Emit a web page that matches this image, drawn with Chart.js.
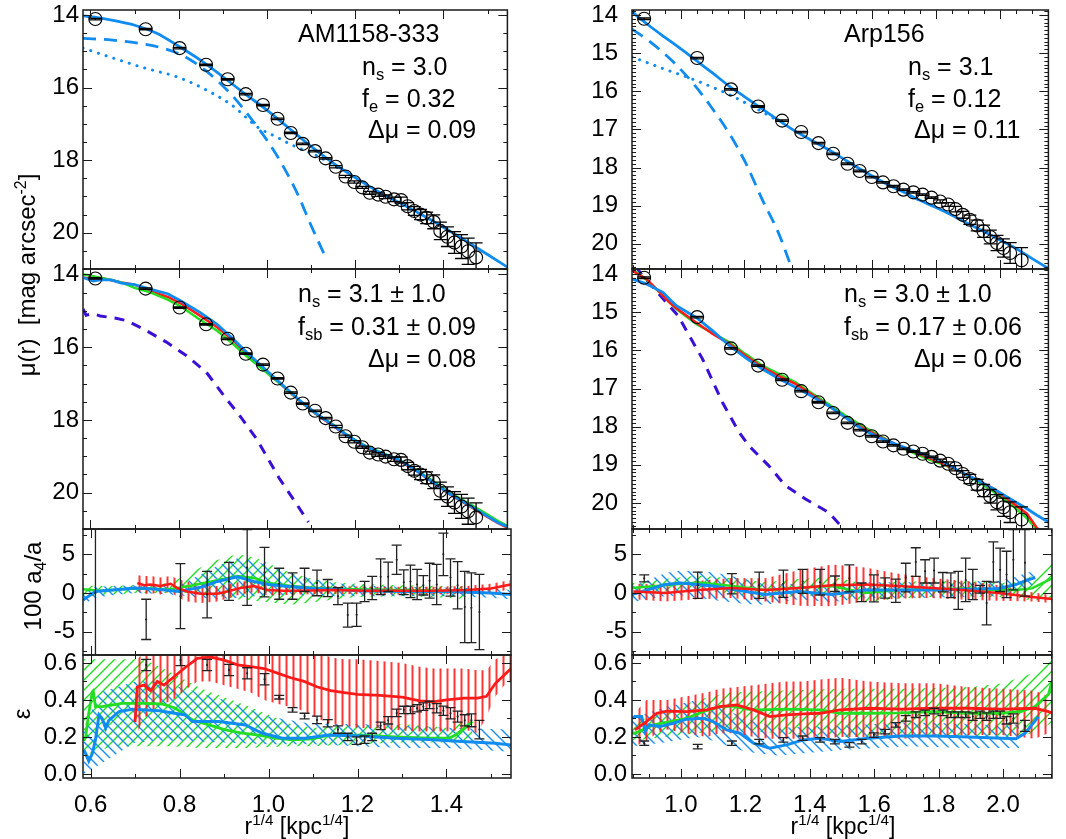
<!DOCTYPE html>
<html>
<head>
<meta charset="utf-8">
<script src="https://cdn.jsdelivr.net/npm/chart.js@4.4.0/dist/chart.umd.min.js"></script>
<style>
  body { margin: 0; background: #fff; width: 1066px; height: 839px; position: relative; overflow: hidden;
         font-family: "Liberation Sans", Arial, Helvetica, sans-serif; color: #000; }
  canvas { position: absolute; }
  .t { position: absolute; white-space: nowrap; }
  .t sub { font-size: 0.66em; vertical-align: -0.3em; line-height: 0; }
  .t sup { font-size: 0.66em; vertical-align: 0.55em; line-height: 0; }
  .rot { transform: translate(-50%, -50%) rotate(-90deg); }
  .ctr { transform: translate(-50%, -50%); }
</style>
</head>
<body>
<script>
// ---------- tick labels ----------
const xTicksL = [0.6, 0.8, 1.0, 1.2, 1.4];
const xTicksR = [1.0, 1.2, 1.4, 1.6, 1.8, 2.0];
const muTicksL = [14, 16, 18, 20];
const muTicksR = [14, 15, 16, 17, 18, 19, 20];
const a4Ticks = [-5, 0, 5];
const epsTicks = [0.0, 0.2, 0.4, 0.6];

// ---------- AM1158-333 (left column) ----------
const rL = [0.611,0.725,0.802,0.862,0.911,0.952,0.991,1.024,1.054,1.081,1.109,1.133,1.156,1.178,1.198,1.216,1.233,1.252,1.269,1.288,1.304,1.319,1.334,1.348,1.362,1.378,1.393,1.409,1.425,1.441,1.456,1.474];
const muL = [14.11,14.39,14.91,15.37,15.77,16.18,16.48,16.86,17.25,17.55,17.75,17.95,18.18,18.45,18.60,18.75,18.90,18.95,19.01,19.08,19.10,19.27,19.40,19.50,19.59,19.70,19.95,20.11,20.27,20.38,20.51,20.68];
const muErrL = [0.02,0.02,0.02,0.02,0.02,0.02,0.02,0.02,0.02,0.02,0.02,0.02,0.03,0.03,0.03,0.03,0.04,0.05,0.05,0.06,0.08,0.10,0.12,0.14,0.16,0.19,0.24,0.27,0.30,0.33,0.36,0.40];

const fitRL = [0.583,0.62,0.66,0.70,0.75,0.80,0.85,0.90,0.95,1.00,1.05,1.10,1.15,1.20,1.25,1.30,1.35,1.40,1.45,1.50,1.545];
const fitMuL = [14.02,14.08,14.17,14.28,14.50,14.86,15.25,15.70,16.17,16.62,17.12,17.62,18.08,18.48,18.85,19.17,19.50,19.85,20.22,20.60,20.95];
const bulgeRL = [0.583,0.65,0.72,0.76,0.81,0.86,0.92,0.97,1.00,1.035,1.07,1.10,1.13];
const bulgeMuL = [14.64,14.69,14.80,14.90,15.12,15.52,16.20,16.95,17.45,18.13,18.95,19.80,20.60];
const discRL = [0.583,0.65,0.72,0.80,0.86,0.92,0.98,1.02,1.06,1.11,1.16];
const discMuL = [14.91,15.18,15.45,15.72,16.05,16.48,17.10,17.35,17.60,17.86,18.20];

const simRL = [0.585,0.606,0.625,0.647,0.67,0.70,0.737,0.775,0.805,0.849,0.887,0.924,0.954,0.999,1.036,1.074,1.111,1.149,1.186,1.224,1.261,1.299,1.336,1.374,1.411,1.449,1.486,1.524,1.546];
const simBlueL = [14.09,14.18,14.14,14.15,14.24,14.28,14.41,14.53,14.73,15.05,15.37,15.78,16.14,16.64,17.05,17.46,17.82,18.14,18.46,18.74,18.92,19.10,19.37,19.69,20.01,20.28,20.55,20.83,20.94];
const simGreenL = [14.00,14.05,14.10,14.15,14.22,14.37,14.50,14.69,14.88,15.25,15.55,15.92,16.25,16.70,17.07,17.47,17.83,18.12,18.45,18.72,18.90,19.10,19.35,19.66,19.98,20.24,20.50,20.78,20.92];
const simRedL = [14.09,14.12,14.10,14.16,14.22,14.28,14.46,14.62,14.80,15.14,15.45,15.82,16.20,16.68,17.07,17.48,17.84,18.16,18.47,18.76,18.93,19.12,19.38,19.70,20.02,20.30,20.57,20.84,20.97];
const compRL = [0.583,0.59,0.605,0.622,0.655,0.682,0.72,0.772,0.817,0.862,0.907,0.937,0.975,0.997,1.027,1.057,1.094];
const compMuL = [14.95,15.12,15.08,15.14,15.20,15.27,15.50,15.86,16.23,16.68,17.41,17.86,18.50,18.95,19.59,20.13,20.81];

const a4L = [0,-3.4,-0.4,-0.2,1.5,3.3,2.7,1.2,0.9,1.7,1.3,0.65,-0.4,-2.85,-2.8,0.2,0.65,2.1,2.1,4.3,1.4,1.5,1.1,1.0,1.6,1.1,5.0,2.0,1.0,-1.8,-1.9,-2.45];
const a4ErrL = [20,2.6,4.2,3.0,2.45,4.9,3.2,2.0,1.7,1.5,1.65,1.1,1.1,1.55,1.5,1.3,1.5,2.3,1.9,1.9,1.6,2.1,1.95,1.25,2.25,2.6,2.75,2.4,3.05,4.6,4.5,4.85];
const a4RedXL = [0.705,0.72,0.735,0.757,0.78,0.795,0.817,0.847,0.885,0.907,0.937,0.967,0.997,1.034,1.072,1.147,1.222,1.297,1.372,1.446,1.5,1.544];
const a4RedL = [1.3,1.0,1.1,0.9,1.2,0.65,0.2,-0.1,-0.1,0.2,0.65,0.9,0.4,0.3,0.3,0.4,0.3,0.3,0.3,0.4,0.6,1.1];
const a4RedErrL = [1.0,1.2,1.1,1.1,1.0,1.2,1.3,1.2,1.0,0.9,0.8,0.8,0.7,0.6,0.5,0.5,0.5,0.5,0.5,0.5,0.6,0.6];
const a4GreenXL = [0.583,0.62,0.65,0.70,0.74,0.78,0.83,0.88,0.93,0.97,1.00,1.05,1.10,1.15,1.20,1.30,1.40,1.45];
const a4GreenL = [0.5,0.3,0.4,0.6,0.55,0.5,1.0,1.6,2.2,1.9,1.3,0.9,0.7,0.55,0.5,0.4,0.3,0.3];
const a4GreenHiL = [1.0,0.9,0.9,1.0,1.1,1.3,2.8,4.2,5.0,4.6,3.8,2.6,1.8,1.4,1.2,1.0,0.9,0.8];
const a4GreenLoL = [-0.5,-0.3,-0.2,0,0,0,0,-0.3,-0.8,-1.0,-1.2,-1.5,-1.2,-0.8,-0.5,-0.4,-0.6,-0.8];
const a4BlueXL = [0.583,0.611,0.65,0.70,0.75,0.80,0.85,0.885,0.93,0.967,1.00,1.034,1.10,1.147,1.20,1.30,1.40,1.50,1.545];
const a4BlueL = [-0.9,0.2,0.4,0.65,0.5,0.2,0.8,1.5,2.1,1.5,1.1,0.9,0.6,0.5,0.3,0.2,0.2,0.0,-0.2];
const a4BlueHiL = [0.4,0.8,0.9,1.0,1.0,1.0,2.5,3.5,4.5,4.2,3.5,2.8,1.8,1.3,1.0,0.8,0.7,0.6,0.4];
const a4BlueLoL = [-1.5,-0.6,-0.3,0,-0.1,-0.3,-0.6,-0.8,-0.6,-0.4,-0.3,-0.3,-0.3,-0.4,-0.4,-0.4,-0.4,-0.6,-0.8];

const epsL = [0.589,0.616,0.589,0.562,0.544,0.512,0.415,0.346,0.313,0.292,0.274,0.24,0.20,0.18,0.185,0.20,0.26,0.29,0.33,0.346,0.346,0.355,0.364,0.373,0.355,0.342,0.328,0.31,0.29,0.29,0.24];
const epsErrL = [0.03,0.03,0.03,0.03,0.03,0.03,0.01,0.012,0.015,0.02,0.02,0.02,0.02,0.02,0.02,0.02,0.02,0.02,0.02,0.02,0.02,0.02,0.02,0.02,0.025,0.025,0.03,0.03,0.03,0.035,0.05];
const epsRedXL = [0.70,0.705,0.72,0.735,0.75,0.765,0.785,0.81,0.84,0.87,0.90,0.93,0.96,0.99,1.02,1.05,1.08,1.11,1.14,1.17,1.20,1.25,1.30,1.34,1.37,1.40,1.44,1.47,1.49,1.51,1.53,1.545];
const epsRedL = [0.28,0.47,0.48,0.45,0.50,0.48,0.52,0.57,0.625,0.632,0.615,0.59,0.58,0.57,0.545,0.52,0.50,0.47,0.45,0.44,0.43,0.425,0.415,0.395,0.39,0.40,0.41,0.41,0.42,0.49,0.535,0.57];
const epsRedHiL = [0.55,0.62,0.66,0.67,0.68,0.69,0.70,0.72,0.75,0.76,0.74,0.72,0.72,0.71,0.70,0.68,0.67,0.66,0.63,0.62,0.62,0.61,0.60,0.58,0.57,0.57,0.57,0.56,0.56,0.62,0.64,0.65];
const epsRedLoL = [0.13,0.22,0.30,0.33,0.37,0.38,0.40,0.45,0.50,0.50,0.48,0.46,0.44,0.40,0.38,0.36,0.34,0.30,0.27,0.26,0.25,0.245,0.235,0.23,0.23,0.23,0.24,0.22,0.31,0.42,0.48,0.50];
const epsGreenXL = [0.585,0.589,0.596,0.604,0.606,0.611,0.626,0.641,0.671,0.716,0.761,0.791,0.829,0.866,0.903,0.941,0.978,1.016,1.053,1.10,1.135,1.21,1.285,1.36,1.405,1.42,1.435,1.458];
const epsGreenL = [0.18,0.20,0.33,0.445,0.45,0.364,0.364,0.37,0.382,0.382,0.378,0.355,0.292,0.265,0.238,0.22,0.21,0.193,0.184,0.19,0.21,0.21,0.20,0.193,0.193,0.21,0.238,0.283];
const epsGreenBandXL = [0.585,0.65,0.72,0.78,0.85,0.95,1.05,1.10,1.20,1.30,1.40,1.458];
const epsGreenHiL = [0.62,0.62,0.62,0.55,0.46,0.37,0.27,0.25,0.26,0.27,0.25,0.30];
const epsGreenLoL = [0.10,0.15,0.15,0.15,0.14,0.14,0.15,0.15,0.16,0.17,0.17,0.17];
const epsBlueXL = [0.585,0.589,0.596,0.604,0.611,0.619,0.626,0.634,0.641,0.664,0.694,0.754,0.813,0.829,0.888,0.948,0.986,1.031,1.083,1.135,1.21,1.285,1.36,1.435,1.51,1.545];
const epsBlueL = [0.13,0.11,0.07,0.11,0.184,0.32,0.30,0.247,0.29,0.337,0.35,0.342,0.319,0.283,0.283,0.265,0.22,0.193,0.193,0.21,0.205,0.193,0.186,0.175,0.166,0.157];
const epsBlueBandXL = [0.585,0.62,0.70,0.75,0.80,0.90,1.00,1.10,1.20,1.30,1.40,1.545];
const epsBlueHiL = [0.25,0.44,0.50,0.50,0.47,0.40,0.31,0.27,0.27,0.26,0.25,0.24];
const epsBlueLoL = [0.0,0.05,0.17,0.18,0.18,0.17,0.16,0.16,0.15,0.14,0.14,0.12];

// ---------- Arp156 (right column) ----------
const rR = [0.886,1.052,1.158,1.243,1.318,1.378,1.432,1.478,1.523,1.561,1.599,1.634,1.667,1.698,1.729,1.758,1.786,1.813,1.838,1.861,1.884,1.906,1.929,1.949,1.970,1.991,2.011,2.032,2.068];
const muR = [14.10,15.13,15.95,16.40,16.77,17.07,17.36,17.64,17.90,18.09,18.25,18.39,18.49,18.58,18.65,18.71,18.79,18.89,18.97,19.09,19.24,19.37,19.52,19.67,19.82,19.98,20.11,20.24,20.43];
const muErrR = [0.02,0.02,0.02,0.02,0.02,0.02,0.02,0.02,0.02,0.02,0.02,0.02,0.02,0.02,0.02,0.02,0.02,0.04,0.05,0.07,0.09,0.12,0.14,0.16,0.18,0.20,0.24,0.27,0.33];

const fitRR = [0.848,0.90,0.95,1.00,1.05,1.10,1.15,1.20,1.25,1.30,1.35,1.40,1.45,1.50,1.55,1.60,1.65,1.70,1.75,1.80,1.85,1.90,1.95,2.00,2.05,2.10,2.152];
const fitMuR = [13.92,14.27,14.58,14.88,15.20,15.52,15.85,16.14,16.43,16.72,17.00,17.24,17.47,17.72,17.98,18.22,18.45,18.65,18.86,19.05,19.25,19.47,19.68,19.90,20.12,20.38,20.65];
const bulgeRR = [0.848,0.904,0.976,1.043,1.095,1.152,1.204,1.256,1.307,1.349];
const bulgeMuR = [14.37,14.70,15.22,15.83,16.40,17.10,17.88,18.84,19.72,20.66];
const discRR = [0.848,0.95,1.043,1.15,1.245,1.30];
const discMuR = [15.10,15.42,15.70,16.08,16.49,16.75];

const simRR = [0.848,0.893,0.945,0.966,0.987,1.049,1.101,1.153,1.204,1.256,1.31,1.36,1.41,1.463,1.515,1.567,1.62,1.671,1.72,1.774,1.826,1.878,1.93,1.981,2.033,2.085,2.116,2.152];
const simBlueR = [14.13,14.26,14.48,14.66,14.83,15.14,15.49,15.88,16.2,16.49,16.75,16.97,17.2,17.45,17.75,18.06,18.28,18.45,18.6,18.76,18.93,19.19,19.4,19.63,19.89,20.15,20.32,20.5];
const simRedR = [13.91,14.13,14.57,14.75,14.9,15.27,15.57,15.83,16.14,16.44,16.68,16.88,17.15,17.45,17.75,18.02,18.25,18.45,18.62,18.8,18.98,19.19,19.4,19.63,19.95,20.28,20.65,20.9];
const simGreenR = [13.87,14.15,14.57,14.75,14.92,15.31,15.55,15.79,16.1,16.4,16.62,16.84,17.12,17.41,17.7,17.97,18.22,18.45,18.65,18.85,19.0,19.19,19.43,19.71,20.02,20.4,20.7,20.95];
const compRR = [0.86,0.873,0.992,1.069,1.131,1.183,1.214,1.276,1.328,1.39,1.463,1.509];
const compMuR = [13.8,13.96,15.09,16.23,17.36,18.14,18.5,19.02,19.54,19.89,20.24,20.66];

const a4R = [1.9,1.0,1.2,1.0,1.2,1.5,1.4,1.2,1.9,0.1,0.6,0.65,0.3,2.0,4.0,2.8,2.9,1.4,1.0,0.35,1.7,1.1,0.5,-1.3,4.0,3.0,2.4,4.3,3.9];
const a4ErrR = [0.45,1.7,1.3,1.7,1.75,1.55,1.65,1.0,1.75,1.2,1.75,1.3,1.5,1.85,1.85,1.5,1.6,1.25,1.6,2.45,2.8,1.95,0.5,2.8,2.6,2.8,3.0,3.9,4.3];
const a4RedXR = [0.852,0.951,1.055,1.158,1.262,1.365,1.469,1.572,1.676,1.779,1.883,1.986,2.09,2.157];
const a4RedR = [0.2,0.0,0.4,0.65,0.4,0.65,1.0,1.1,0.9,0.65,0.35,0.0,-0.5,-0.8];
const a4RedErrR = [1.0,1.1,1.2,1.3,1.5,2.3,2.7,2.2,1.6,1.3,1.2,1.0,0.6,0.5];
const a4GreenXR = [0.848,0.95,1.055,1.16,1.262,1.365,1.469,1.572,1.676,1.779,1.883,1.986,2.04,2.09,2.152];
const a4GreenR = [0.65,1.0,1.35,0.9,0.4,0.7,0.9,0.0,0.4,0.5,0.6,0.4,0.4,0.6,1.9];
const a4GreenErrR = [0.6,0.8,0.9,1.0,1.0,1.1,1.2,1.2,1.1,1.0,1.0,0.9,1.0,1.6,2.5];
const a4BlueXR = [0.848,0.951,1.0,1.1,1.2,1.262,1.365,1.469,1.572,1.779,1.986,2.04,2.07,2.1];
const a4BlueR = [-0.2,1.1,1.3,0.9,0.2,-0.2,0.2,-0.2,0.4,0.4,0.6,1.1,1.6,2.0];
const a4BlueErrR = [1.0,1.5,1.6,1.8,1.6,1.3,1.0,1.0,1.0,1.0,1.0,1.0,1.0,0.8];

const epsR = [0.166,0.148,0.166,0.175,0.184,0.193,0.184,0.175,0.157,0.175,0.21,0.229,0.265,0.30,0.32,0.33,0.34,0.33,0.32,0.32,0.32,0.31,0.32,0.31,0.32,0.32,0.29,0.30,0.26];
const epsErrR = [0.012,0.012,0.012,0.012,0.012,0.012,0.012,0.012,0.012,0.012,0.012,0.012,0.012,0.015,0.015,0.015,0.015,0.015,0.015,0.015,0.015,0.02,0.02,0.02,0.02,0.02,0.02,0.025,0.03];
const epsRedXR = [0.857,0.893,0.925,0.956,1.018,1.08,1.121,1.173,1.225,1.276,1.328,1.38,1.432,1.494,1.582,1.685,1.789,1.892,1.996,2.099,2.141,2.152];
const epsRedR = [0.238,0.283,0.328,0.34,0.337,0.346,0.364,0.373,0.346,0.31,0.319,0.325,0.328,0.346,0.355,0.35,0.355,0.355,0.35,0.355,0.337,0.33];
const epsRedHiR = [0.33,0.40,0.40,0.40,0.42,0.44,0.46,0.47,0.48,0.49,0.50,0.50,0.51,0.52,0.50,0.49,0.49,0.47,0.46,0.45,0.42,0.40];
const epsRedLoR = [0.15,0.18,0.22,0.24,0.22,0.20,0.22,0.22,0.20,0.19,0.19,0.19,0.19,0.20,0.20,0.19,0.20,0.21,0.21,0.19,0.22,0.25];
const epsGreenXR = [0.848,0.857,0.914,0.966,1.018,1.069,1.121,1.162,1.204,1.245,1.328,1.432,1.494,1.582,1.685,1.789,1.892,1.996,2.06,2.099,2.141,2.152];
const epsGreenR = [0.22,0.22,0.265,0.283,0.301,0.337,0.364,0.367,0.35,0.346,0.35,0.346,0.328,0.328,0.33,0.337,0.328,0.328,0.34,0.364,0.43,0.50];
const epsGreenBandXR = [0.848,0.95,1.05,1.15,1.3,1.5,1.7,1.9,2.0,2.1,2.152];
const epsGreenHiR = [0.28,0.33,0.40,0.44,0.45,0.46,0.46,0.47,0.49,0.55,0.62];
const epsGreenLoR = [0.18,0.20,0.22,0.24,0.22,0.20,0.20,0.20,0.20,0.22,0.28];
const epsBlueXR = [0.848,0.857,0.878,0.889,0.90,0.935,0.976,1.018,1.069,1.10,1.142,1.183,1.225,1.276,1.328,1.38,1.432,1.494,1.582,1.685,1.789,1.892,1.996,2.04,2.068,2.11];
const epsBlueR = [0.30,0.31,0.31,0.229,0.265,0.256,0.274,0.296,0.301,0.283,0.238,0.22,0.166,0.139,0.157,0.184,0.193,0.175,0.193,0.205,0.205,0.20,0.193,0.19,0.22,0.31];
const epsBlueBandXR = [0.848,0.95,1.05,1.10,1.20,1.30,1.50,1.70,1.90,2.00,2.05];
const epsBlueHiR = [0.30,0.36,0.40,0.38,0.30,0.25,0.26,0.28,0.27,0.26,0.27];
const epsBlueLoR = [0.15,0.17,0.20,0.18,0.12,0.10,0.13,0.15,0.14,0.14,0.14];

// ---------- styling ----------
const BLUE = '#108cf0', GREEN = '#22dd22', RED = '#ff1a1a', PURPLE = '#3a0fd6';
Chart.defaults.font.family = '"Liberation Sans", Arial, Helvetica, sans-serif';
Chart.defaults.font.size = 24;
Chart.defaults.color = '#000';

const scratch = document.createElement('canvas').getContext('2d');
function hatch(color, kind, size, lw) {
  const c = document.createElement('canvas');
  c.width = size; c.height = size;
  const g = c.getContext('2d');
  g.strokeStyle = color; g.lineWidth = lw; g.beginPath();
  if (kind === '|') { g.moveTo(size / 2, 0); g.lineTo(size / 2, size); }
  else if (kind === '/') {
    g.moveTo(-1, size + 1); g.lineTo(size + 1, -1);
    g.moveTo(-1, 1); g.lineTo(1, -1);
    g.moveTo(size - 1, size + 1); g.lineTo(size + 1, size - 1);
  } else {
    g.moveTo(-1, -1); g.lineTo(size + 1, size + 1);
    g.moveTo(size - 1, -1); g.lineTo(size + 1, 1);
    g.moveTo(-1, size - 1); g.lineTo(1, size + 1);
  }
  g.stroke();
  return scratch.createPattern(c, 'repeat');
}
const redBars = hatch('rgba(255,20,20,0.85)', '|', 7, 2);
const greenHatch = hatch(GREEN, '/', 10, 1.4);
const blueHatch = hatch('#1a90f0', '\\', 10, 1.4);

const pts = (xs, ys) => xs.map((x, i) => ({x: x, y: ys[i]}));
const plus = (ys, e) => ys.map((v, i) => v + e[i]);
const minus = (ys, e) => ys.map((v, i) => v - e[i]);

function curve(xs, ys, color, width, dash, order, smooth) {
  return {
    data: pts(xs, ys), borderColor: color, borderWidth: width,
    borderDash: dash === 'dot' ? [0.1, 8] : dash,
    borderCapStyle: dash === 'dot' ? 'round' : 'butt',
    pointRadius: 0, fill: false, order: order, tension: 0,
    cubicInterpolationMode: smooth ? 'monotone' : 'default'
  };
}
function band(xs, lo, hi, pattern, order) {
  return [
    {data: pts(xs, hi), borderColor: 'rgba(0,0,0,0)', borderWidth: 1, pointRadius: 0,
     backgroundColor: pattern, fill: '+1', order: order},
    {data: pts(xs, lo), borderColor: 'rgba(0,0,0,0)', borderWidth: 1, pointRadius: 0, fill: false, order: order}
  ];
}
function circles(xs, ys, errs) {
  return {data: pts(xs, ys), showLine: false, pointRadius: 6.5, pointBorderColor: '#000',
    pointBackgroundColor: 'rgba(0,0,0,0)', pointBorderWidth: 1.1, errs: errs, cap: 6.5, order: 0};
}
function dots(xs, ys, errs) {
  return {data: pts(xs, ys), showLine: false, pointRadius: 1, pointBorderWidth: 0,
    pointBackgroundColor: '#000', errs: errs, cap: 5, errColor: '#222', order: 0};
}

// vertical error bars for datasets that carry an errs array
const errorBars = {
  id: 'errorBars',
  afterDatasetsDraw(chart) {
    const {ctx, chartArea: a, scales: {x, y}} = chart;
    ctx.save();
    ctx.beginPath(); ctx.rect(a.left, a.top, a.right - a.left, a.bottom - a.top); ctx.clip();
    chart.data.datasets.forEach(ds => {
      if (!ds.errs) return;
      ctx.strokeStyle = ds.errColor || '#000';
      ctx.lineWidth = 1.3;
      ds.data.forEach((p, i) => {
        const px = x.getPixelForValue(p.x);
        const y1 = y.getPixelForValue(p.y - ds.errs[i]);
        const y2 = y.getPixelForValue(p.y + ds.errs[i]);
        const c = ds.cap;
        ctx.beginPath();
        ctx.moveTo(px, y1); ctx.lineTo(px, y2);
        ctx.moveTo(px - c, y1); ctx.lineTo(px + c, y1);
        ctx.moveTo(px - c, y2); ctx.lineTo(px + c, y2);
        ctx.stroke();
      });
    });
    ctx.restore();
  }
};

// box frame with inward major/minor ticks on all four sides
const frameTicks = {
  id: 'frameTicks',
  afterDatasetsDraw(chart, args, o) {
    const {ctx, chartArea: a, scales: {x, y}} = chart;
    const minors = (s, step) => {
      const out = [];
      for (let k = Math.ceil(s.min / step - 1e-6); k * step <= s.max + 1e-9; k++) out.push(k * step);
      return out;
    };
    ctx.save();
    ctx.strokeStyle = '#1a1a1a';
    ctx.lineWidth = 1;
    ctx.beginPath();
    const vx = (v, len) => {
      const p = Math.round(x.getPixelForValue(v)) + 0.5;
      ctx.moveTo(p, a.top); ctx.lineTo(p, a.top + len);
      ctx.moveTo(p, a.bottom); ctx.lineTo(p, a.bottom - len);
    };
    const hy = (v, len) => {
      const p = Math.round(y.getPixelForValue(v)) + 0.5;
      ctx.moveTo(a.left, p); ctx.lineTo(a.left + len, p);
      ctx.moveTo(a.right, p); ctx.lineTo(a.right - len, p);
    };
    minors(x, o.xMinor).forEach(v => vx(v, 4));
    o.xMajor.forEach(v => vx(v, 9));
    minors(y, o.yMinor).forEach(v => hy(v, 4));
    o.yMajor.forEach(v => hy(v, 9));
    ctx.stroke();
    ctx.lineWidth = 1.5;
    ctx.strokeRect(a.left, a.top, a.right - a.left, a.bottom - a.top);
    ctx.restore();
  }
};

// ---------- layout ----------
const cols = {L: [83, 511], R: [632, 1052]};
const rows = [[10, 269], [269, 529], [529, 655], [655, 778]];
const xRange = {L: [0.583, 1.545], R: [0.848, 2.152]};
const xMajor = {L: xTicksL, R: xTicksR};
const xMinor = {L: 0.1, R: 0.05};
const M = 80, PAD = 14, PADR = 4, XB = 40;

function makeChart(col, row, y, datasets) {
  const [x0, x1] = cols[col], [y0, y1] = rows[row];
  const bottom = row === 3;
  const W = x1 - x0 + M + PADR, H = y1 - y0 + 2 * PAD + (bottom ? XB : 0);
  const cv = document.createElement('canvas');
  cv.width = W; cv.height = H;
  cv.style.left = (x0 - M) + 'px'; cv.style.top = (y0 - PAD) + 'px';
  cv.style.width = W + 'px'; cv.style.height = H + 'px';
  document.body.appendChild(cv);
  new Chart(cv, {
    type: 'line',
    data: {datasets: datasets},
    options: {
      responsive: false, animation: false, devicePixelRatio: 1,
      layout: {padding: {left: 0, right: PADR, top: PAD, bottom: PAD}},
      plugins: {
        legend: {display: false}, tooltip: {enabled: false},
        frameTicks: {xMajor: xMajor[col], xMinor: xMinor[col], yMajor: y.ticks, yMinor: y.minor}
      },
      scales: {
        x: {
          type: 'linear', min: xRange[col][0], max: xRange[col][1], display: bottom,
          grid: {display: false, drawTicks: false}, border: {display: false},
          ticks: {padding: 13, autoSkip: false, maxRotation: 0, callback: v => v.toFixed(1)},
          afterBuildTicks: s => { s.ticks = xMajor[col].map(v => ({value: v})); },
          afterFit: s => { if (bottom) s.height = XB; s.paddingLeft = 0; s.paddingRight = 0; }
        },
        y: {
          type: 'linear', min: y.min, max: y.max, reverse: !!y.reverse,
          grid: {display: false, drawTicks: false}, border: {display: false},
          ticks: {padding: y.pad, autoSkip: false, callback: v => v.toFixed(y.dec)},
          afterBuildTicks: s => { s.ticks = y.ticks.map(v => ({value: v})); },
          afterFit: s => { s.width = M; s.paddingTop = 0; s.paddingBottom = 0; }
        }
      }
    },
    plugins: [errorBars, frameTicks]
  });
}

// row 1: profile fits
makeChart('L', 0, {min: 13.86, max: 21.0, reverse: true, ticks: muTicksL, minor: 0.5, dec: 0, pad: 4}, [
  circles(rL, muL, muErrL),
  curve(fitRL, fitMuL, BLUE, 2.8, [], 1, true),
  curve(bulgeRL, bulgeMuL, BLUE, 2.8, [13, 8], 2, true),
  curve(discRL, discMuL, BLUE, 3, 'dot', 3, true)
]);
makeChart('R', 0, {min: 13.87, max: 20.66, reverse: true, ticks: muTicksR, minor: 0.1, dec: 0, pad: 14}, [
  circles(rR, muR, muErrR),
  curve(fitRR, fitMuR, BLUE, 2.8, [], 1, true),
  curve(bulgeRR, bulgeMuR, BLUE, 2.8, [13, 8], 2, true),
  curve(discRR, discMuR, BLUE, 3, 'dot', 3, true)
]);
// row 2: simulated profiles
makeChart('L', 1, {min: 13.85, max: 21.0, reverse: true, ticks: muTicksL, minor: 0.5, dec: 0, pad: 4}, [
  circles(rL, muL, muErrL),
  curve(simRL, simRedL, RED, 2.5, [], 3),
  curve(simRL, simGreenL, GREEN, 2.5, [], 2),
  curve(simRL, simBlueL, BLUE, 2.8, [], 1),
  curve(compRL, compMuL, PURPLE, 3, [10, 8], 4)
]);
makeChart('R', 1, {min: 13.87, max: 20.68, reverse: true, ticks: muTicksR, minor: 0.1, dec: 0, pad: 14}, [
  circles(rR, muR, muErrR),
  curve(simRR, simRedR, RED, 2.5, [], 2),
  curve(simRR, simGreenR, GREEN, 2.5, [], 3),
  curve(simRR, simBlueR, BLUE, 2.8, [], 1),
  curve(compRR, compMuR, PURPLE, 3, [10, 8], 4)
]);
// row 3: a4/a
makeChart('L', 2, {min: -8.0, max: 8.27, ticks: a4Ticks, minor: 2.5, dec: 0, pad: 8}, [
  dots(rL, a4L, a4ErrL),
  curve(a4RedXL, a4RedL, RED, 2.5, [], 1),
  curve(a4BlueXL, a4BlueL, BLUE, 3, [], 2),
  curve(a4GreenXL, a4GreenL, GREEN, 2.5, [], 3),
  ...band(a4RedXL, minus(a4RedL, a4RedErrL), plus(a4RedL, a4RedErrL), redBars, 5),
  ...band(a4BlueXL, a4BlueLoL, a4BlueHiL, blueHatch, 6),
  ...band(a4GreenXL, a4GreenLoL, a4GreenHiL, greenHatch, 7)
]);
makeChart('R', 2, {min: -8.0, max: 8.27, ticks: a4Ticks, minor: 2.5, dec: 0, pad: 5}, [
  dots(rR, a4R, a4ErrR),
  curve(a4RedXR, a4RedR, RED, 2.5, [], 1),
  curve(a4BlueXR, a4BlueR, BLUE, 3, [], 2),
  curve(a4GreenXR, a4GreenR, GREEN, 2.5, [], 3),
  ...band(a4RedXR, minus(a4RedR, a4RedErrR), plus(a4RedR, a4RedErrR), redBars, 5),
  ...band(a4BlueXR, minus(a4BlueR, a4BlueErrR), plus(a4BlueR, a4BlueErrR), blueHatch, 6),
  ...band(a4GreenXR, minus(a4GreenR, a4GreenErrR), plus(a4GreenR, a4GreenErrR), greenHatch, 7)
]);
// row 4: ellipticity
makeChart('L', 3, {min: -0.022, max: 0.643, ticks: epsTicks, minor: 0.1, dec: 1, pad: 6}, [
  dots(rL.slice(1), epsL, epsErrL),
  curve(epsRedXL, epsRedL, RED, 2.8, [], 1),
  curve(epsBlueXL, epsBlueL, BLUE, 3, [], 2),
  curve(epsGreenXL, epsGreenL, GREEN, 2.8, [], 3),
  ...band(epsRedXL, epsRedLoL, epsRedHiL, redBars, 5),
  ...band(epsBlueBandXL, epsBlueLoL, epsBlueHiL, blueHatch, 6),
  ...band(epsGreenBandXL, epsGreenLoL, epsGreenHiL, greenHatch, 7)
]);
makeChart('R', 3, {min: -0.022, max: 0.643, ticks: epsTicks, minor: 0.1, dec: 1, pad: 5}, [
  dots(rR, epsR, epsErrR),
  curve(epsRedXR, epsRedR, RED, 2.8, [], 1),
  curve(epsBlueXR, epsBlueR, BLUE, 3, [], 2),
  curve(epsGreenXR, epsGreenR, GREEN, 2.8, [], 3),
  ...band(epsRedXR, epsRedLoR, epsRedHiR, redBars, 5),
  ...band(epsBlueBandXR, epsBlueLoR, epsBlueHiR, blueHatch, 6),
  ...band(epsGreenBandXR, epsGreenLoR, epsGreenHiR, greenHatch, 7)
]);

// ---------- text ----------
function note(html, left, baseline, size, cls) {
  const d = document.createElement('div');
  d.className = 't' + (cls ? ' ' + cls : '');
  d.style.fontSize = size + 'px';
  d.style.lineHeight = size + 'px';
  d.innerHTML = html;
  d.style.left = left + 'px';
  d.style.top = (cls ? baseline : baseline - 0.847 * size) + 'px';
  document.body.appendChild(d);
}
note('AM1158-333', 298, 41.7, 25);
note('n<sub>s</sub> = 3.0', 362, 75, 25);
note('f<sub>e</sub> = 0.32', 362, 106.7, 25);
note('Δμ = 0.09', 368, 138.3, 25);
note('Arp156', 844, 41.7, 25);
note('n<sub>s</sub> = 3.1', 908, 75, 25);
note('f<sub>e</sub> = 0.12', 908, 106.7, 25);
note('Δμ = 0.11', 914, 138.3, 25);
note('n<sub>s</sub> = 3.1 ± 1.0', 298, 301.7, 25);
note('f<sub>sb</sub> = 0.31 ± 0.09', 298, 335, 25);
note('Δμ = 0.08', 368, 366.7, 25);
note('n<sub>s</sub> = 3.0 ± 1.0', 844, 301.7, 25);
note('f<sub>sb</sub> = 0.17 ± 0.06', 844, 335, 25);
note('Δμ = 0.06', 914, 366.7, 25);
note('μ(r)&nbsp; [mag arcsec<sup>-2</sup>]', 27, 275, 24, 'rot');
note('100 a<sub>4</sub>/a', 33, 586, 24, 'rot');
note('ε', 22, 714, 24, 'rot');
note('r<sup>1/4</sup> [kpc<sup>1/4</sup>]', 297, 826, 23, 'ctr');
note('r<sup>1/4</sup> [kpc<sup>1/4</sup>]', 843, 826, 23, 'ctr');
</script>
</body>
</html>
